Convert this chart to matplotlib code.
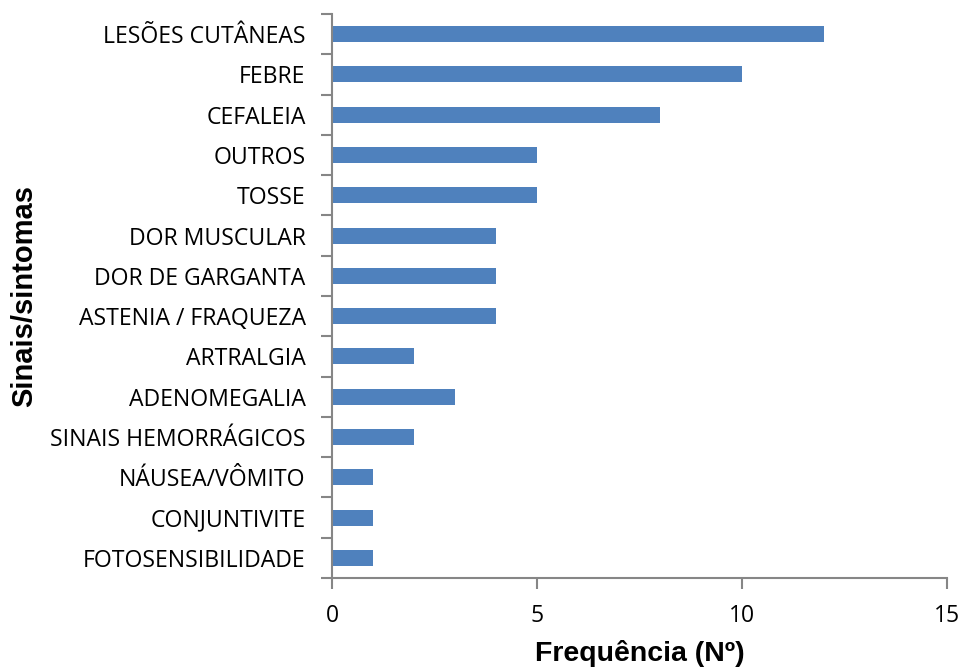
import numpy as np
import matplotlib
matplotlib.use("Agg")
import matplotlib.pyplot as plt

categories = [
    "LESÕES CUTÂNEAS", "FEBRE", "CEFALEIA", "OUTROS", "TOSSE",
    "DOR MUSCULAR", "DOR DE GARGANTA", "ASTENIA / FRAQUEZA", "ARTRALGIA",
    "ADENOMEGALIA", "SINAIS HEMORRÁGICOS", "NÁUSEA/VÔMITO", "CONJUNTIVITE",
    "FOTOSENSIBILIDADE",
]
values = [12, 10, 8, 5, 5, 4, 4, 4, 2, 3, 2, 1, 1, 1]
x_ticks = [0, 5, 10, 15]

W, H = 962, 671
x0, x1, y_top, y_bot = 332, 947, 14, 578
aw, ah = x1 - x0, y_bot - y_top
fig = plt.figure(figsize=(W / 100, H / 100), dpi=100)
ax = fig.add_axes([x0 / W, (H - y_bot) / H, aw / W, ah / H])

n = len(categories)
pos = np.arange(n)[::-1]
ax.barh(pos, values, height=0.4, color="#4F81BD")

ax.set_xlim(0, 15)
ax.set_ylim(-0.5, n - 0.5)
ax.set_xticks(x_ticks)
ax.set_xticklabels([str(t) for t in x_ticks], fontsize=16.5, family="Open Sans")

# labels at category centres, tick marks at boundaries
ax.set_yticks(pos)
ax.set_yticklabels(categories, fontsize=16.6, family="Open Sans")
ax.tick_params(axis="y", which="major", length=0, pad=19)
ax.set_yticks(np.arange(n + 1) - 0.5, minor=True)
ax.tick_params(axis="y", which="minor", length=8, color="#868686", width=1.5)
ax.tick_params(axis="x", length=8, color="#868686", width=1.5, pad=11)

for s in ["top", "right"]:
    ax.spines[s].set_visible(False)
for s in ["left", "bottom"]:
    ax.spines[s].set_color("#868686")
    ax.spines[s].set_linewidth(1.5)

ax.set_xlabel("Frequência (Nº)", fontsize=20.5, fontweight="bold",
              family="Liberation Sans")
ax.set_ylabel("Sinais/sintomas", fontsize=21, fontweight="bold",
              family="Liberation Sans")
ax.xaxis.set_label_coords((640 - x0) / aw, (y_bot - 640) / ah)
ax.yaxis.set_label_coords((38 - x0) / aw, 0.5)

fig.savefig("out.png", dpi=100)
